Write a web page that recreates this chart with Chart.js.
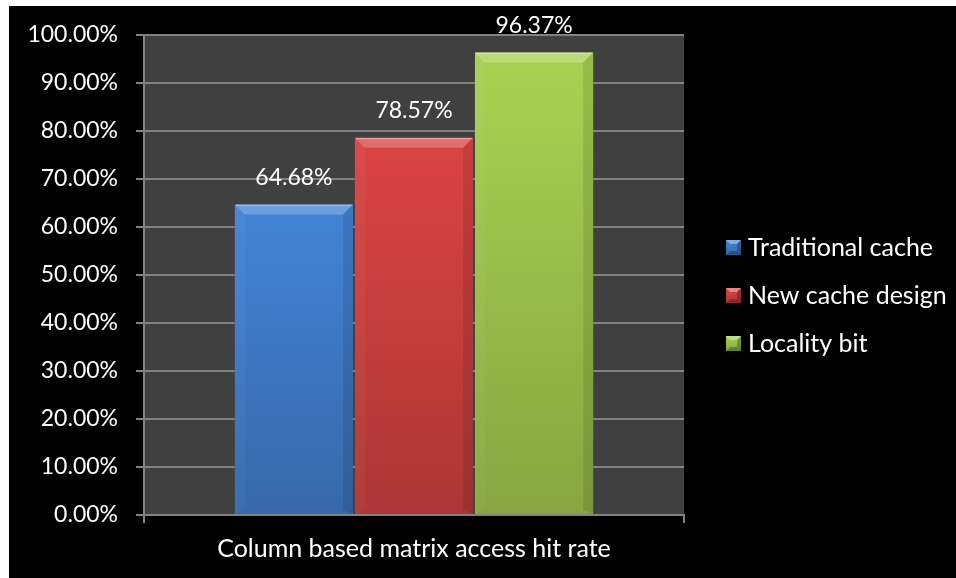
<!DOCTYPE html>
<html><head><meta charset="utf-8">
<script src="https://cdn.jsdelivr.net/npm/chart.js@4"></script>
<style>
html,body{margin:0;padding:0;background:#fff;width:956px;height:578px;overflow:hidden;}
#frame{position:absolute;left:9px;top:6px;width:947px;height:572px;background:#000;}
canvas{display:block;}
</style></head><body>
<div id="frame"><canvas id="c" width="947" height="572"></canvas></div>
<script>
// ---- data ----
const categories = ['Column based matrix access hit rate'];
const seriesNames = ['Traditional cache', 'New cache design', 'Locality bit'];
const traditionalCache = [64.68];
const newCacheDesign = [78.57];
const localityBit = [96.37];
const yMin = 0, yMax = 100, yStep = 10;

// ---- styles ----
const FONT = 'Lato';
const seriesColors = [
  ['#4384d6', '#3768aa'],
  ['#db4444', '#ad3636'],
  ['#a8d252', '#87a641']
];
const gridColor = '#828282';
const legendWidth = 272;

function barGradient(topColor, bottomColor) {
  return function (c) {
    const chart = c.chart;
    const ys = chart.scales && chart.scales.y;
    if (!chart.chartArea || !ys || c.type !== 'data') return topColor;
    const top = ys.getPixelForValue(c.raw);
    const base = ys.getPixelForValue(0);
    const g = chart.ctx.createLinearGradient(0, top, 0, base);
    g.addColorStop(0, topColor);
    g.addColorStop(1, bottomColor);
    return g;
  };
}

function legendIcon(topColor, bottomColor) {
  const s = 15, b = 4;
  const cv = document.createElement('canvas');
  cv.width = s; cv.height = s;
  const x = cv.getContext('2d');
  const g = x.createLinearGradient(0, 0, 0, s);
  g.addColorStop(0, topColor); g.addColorStop(1, bottomColor);
  x.fillStyle = g; x.fillRect(0, 0, s, s);
  x.fillStyle = 'rgba(255,255,255,0.35)';
  x.beginPath(); x.moveTo(0,0); x.lineTo(s,0); x.lineTo(s-b,b); x.lineTo(b,b); x.closePath(); x.fill();
  x.fillStyle = 'rgba(0,0,0,0.25)';
  x.beginPath(); x.moveTo(s,0); x.lineTo(s,s); x.lineTo(s-b,s-b); x.lineTo(s-b,b); x.closePath(); x.fill();
  x.beginPath(); x.moveTo(0,s); x.lineTo(s,s); x.lineTo(s-b,s-b); x.lineTo(b,s-b); x.closePath(); x.fill();
  return cv;
}

const seriesData = [traditionalCache, newCacheDesign, localityBit];
const datasets = seriesNames.map((name, i) => ({
  label: name,
  data: seriesData[i],
  backgroundColor: barGradient(seriesColors[i][0], seriesColors[i][1]),
  pointStyle: legendIcon(seriesColors[i][0], seriesColors[i][1]),
  borderWidth: 0,
  categoryPercentage: 0.667,
  barPercentage: 0.985
}));

const plotBackground = {
  id: 'plotBackground',
  beforeDraw(chart) {
    const {ctx, chartArea: a} = chart;
    ctx.save(); ctx.fillStyle = '#404040';
    ctx.fillRect(a.left, a.top, a.right - a.left, a.bottom - a.top);
    ctx.restore();
  }
};

const legendPlacement = {
  id: 'legendPlacement',
  beforeLayout(chart) {
    const lg = chart.legend;
    if (lg && !lg.__fixed) {
      const orig = lg.fit;
      lg.fit = function () { orig.call(this); this.width = legendWidth; };
      lg.__fixed = true;
    }
  },
  afterLayout(chart) {
    const lg = chart.legend; if (!lg) return;
    const a = chart.chartArea;
    lg.left = a.right + 24.5;
    lg.top = a.top + 177;
  }
};

const bevelAndLabels = {
  id: 'bevelAndLabels',
  afterDatasetsDraw(chart) {
    const ctx = chart.ctx;
    ctx.save();
    chart.data.datasets.forEach((ds, i) => {
      chart.getDatasetMeta(i).data.forEach((el, j) => {
        const p = el.getProps(['x', 'y', 'base', 'width'], true);
        const l = p.x - p.width / 2, r = p.x + p.width / 2, t = p.y, bs = p.base, b = 10;
        ctx.fillStyle = 'rgba(255,255,255,0.22)';
        ctx.beginPath(); ctx.moveTo(l, t); ctx.lineTo(r, t); ctx.lineTo(r - b, t + b); ctx.lineTo(l + b, t + b); ctx.closePath(); ctx.fill();
        ctx.fillStyle = 'rgba(255,255,255,0.04)';
        ctx.beginPath(); ctx.moveTo(l, t); ctx.lineTo(l + b, t + b); ctx.lineTo(l + b, bs - 4); ctx.lineTo(l, bs); ctx.closePath(); ctx.fill();
        ctx.fillStyle = 'rgba(0,0,0,0.10)';
        ctx.beginPath(); ctx.moveTo(r, t); ctx.lineTo(r, bs); ctx.lineTo(r - b, bs - 4); ctx.lineTo(r - b, t + b); ctx.closePath(); ctx.fill();
        ctx.fillStyle = 'rgba(255,255,255,0.3)';
        ctx.fillRect(l + 1, t, p.width - 2, 1.5);
        ctx.fillStyle = '#ffffff';
        ctx.font = '23px ' + FONT;
        ctx.textAlign = 'center'; ctx.textBaseline = 'middle';
        ctx.fillText(ds.data[j].toFixed(2) + '%', p.x, t - 27);
      });
    });
    ctx.restore();
  }
};

new Chart(document.getElementById('c'), {
  type: 'bar',
  data: { labels: categories, datasets },
  options: {
    responsive: false,
    animation: false,
    events: [],
    layout: { padding: { top: 29, bottom: 3, left: 0, right: 0 } },
    plugins: {
      tooltip: { enabled: false },
      legend: {
        position: 'right',
        align: 'start',
        labels: {
          color: '#ffffff',
          font: { family: FONT, size: 25 },
          usePointStyle: true,
          pointStyleWidth: 4,
          boxWidth: 15, boxHeight: 15,
          padding: 23
        }
      }
    },
    scales: {
      x: {
        z: 1,
        offset: true,
        grid: { display: true, offset: true, drawOnChartArea: false, drawTicks: true, tickLength: 8, color: gridColor, lineWidth: 2 },
        border: { display: true, color: gridColor, width: 2 },
        ticks: { color: '#ffffff', font: { family: FONT, size: 25 }, padding: 11 }
      },
      y: {
        min: yMin, max: yMax,
        ticks: { stepSize: yStep, color: '#ffffff', font: { family: FONT, size: 23 }, padding: 18,
                 callback: v => Number(v).toFixed(2) + '%' },
        grid: { color: gridColor, lineWidth: 2, tickLength: 8, drawTicks: true },
        border: { display: true, color: gridColor, width: 2 },
        afterFit(s) { s.width = 135; s.paddingTop = 0; s.paddingBottom = 0; }
      }
    }
  },
  plugins: [plotBackground, legendPlacement, bevelAndLabels]
});
</script>
</body></html>
